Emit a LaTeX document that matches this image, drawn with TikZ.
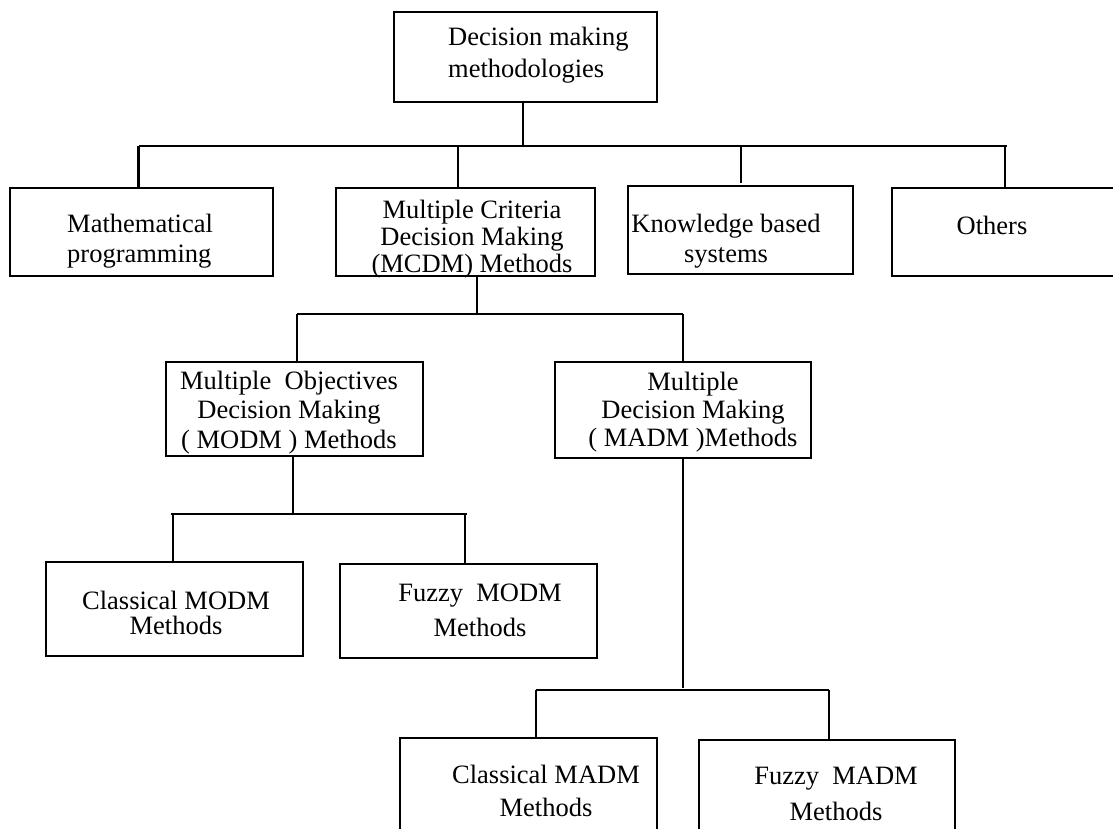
\documentclass[tikz,border=0pt]{standalone}
\usepackage{fontspec}
\setmainfont{Liberation Serif}
\begin{document}
\begin{tikzpicture}[x=1pt,y=-1pt,
  box/.style={draw,line width=2.1pt,rectangle,inner sep=0pt},
  conn/.style={line width=2.1pt},
  lbl/.style={inner sep=0pt,anchor=base,align=center,font=\fontsize{26.5}{#1}\selectfont},
  lbl/.default=30]
\useasboundingbox (0,0) rectangle (1113,828);
\begin{scope}
\clip (0,0) rectangle (1113,828);
% boxes
\node[box,minimum width=263pt,minimum height=90pt] (top) at (525.5,57) {};
\node[box,minimum width=263pt,minimum height=88pt] (math) at (141.5,232) {};
\node[box,minimum width=259pt,minimum height=88pt] (mcdm) at (465.5,232) {};
\node[box,minimum width=225pt,minimum height=88pt] (know) at (740.5,230) {};
\node[box,minimum width=233pt,minimum height=88pt] (oth) at (1008.5,232) {};
\node[box,minimum width=257pt,minimum height=94pt] (modm) at (294.5,409) {};
\node[box,minimum width=256pt,minimum height=96pt] (madm) at (683,410) {};
\node[box,minimum width=257pt,minimum height=94pt] (cmodm) at (174.5,609) {};
\node[box,minimum width=257pt,minimum height=94pt] (fmodm) at (468.5,611) {};
\node[box,minimum width=257pt,minimum height=102pt] (cmadm) at (528.5,789) {};
\node[box,minimum width=256pt,minimum height=102pt] (fmadm) at (827,791) {};
% texts (anchor base = baseline of the last line)
\node[lbl=32,anchor=base west,align=left] (ttop) at (448,77) {Decision making\\methodologies};
\node[lbl=30,anchor=base west,align=left] (tmath) at (67,262) {Mathematical\\programming};
\node[lbl=27] (tmcdm) at (472,272) {Multiple Criteria\\Decision Making\\(MCDM) Methods};
\node[lbl=30] (tknow) at (726,262) {Knowledge based\\systems};
\node[lbl] (toth) at (992,234) {Others};
\node[lbl=29.5] (tmodm) at (289,448) {Multiple\ \ Objectives\\Decision Making\\( MODM ) Methods};
\node[lbl=28] (tmadm) at (693,446) {Multiple\\Decision Making\\( MADM )Methods};
\node[lbl=25] (tcmodm) at (176,634) {Classical MODM\\Methods};
\node[lbl=35] (tfmodm) at (480,636) {Fuzzy\ \ MODM\\Methods};
\node[lbl=33] (tcmadm) at (546,816) {Classical MADM\\Methods};
\node[lbl=36] (tfmadm) at (836,820) {Fuzzy\ \ MADM\\Methods};
% bus coordinates
\coordinate (b1l) at (138.5,146);
\coordinate (b1r) at (1007,146);
\coordinate (j2) at (458,146);
\coordinate (j3) at (741,146);
\coordinate (j4) at (1005,146);
\coordinate (b2l) at (296.6,314);
\coordinate (b2r) at (682.8,314);
\coordinate (b3l) at (172.6,514);
\coordinate (b3r) at (465,514);
\coordinate (b4l) at (536.4,690);
\coordinate (b4r) at (828.8,690);
% connectors
\draw[conn] ([xshift=-2.5pt]top.south) -- ([xshift=-2.5pt]top.south |- b1l);
\draw[conn] (b1l) -- (b1r);
\draw[conn] (b1l) -- (b1l |- math.north);
\draw[conn] (j2) -- (j2 |- mcdm.north);
\draw[conn,line width=1.6pt] (j3) -- ([yshift=2pt]j3 |- know.north);
\draw[conn] (j4) -- (j4 |- oth.north);
\draw[conn] ([xshift=11.2pt]mcdm.south) -- ([xshift=11.2pt]mcdm.south |- b2l);
\draw[conn] (b2l) -- (b2r);
\draw[conn] (b2l) -- (b2l |- modm.north);
\draw[conn] (b2r) -- (b2r |- madm.north);
\draw[conn] ([xshift=-1.5pt]modm.south) -- ([xshift=-1.5pt]modm.south |- b3l);
\draw[conn] ([xshift=-1.5pt]b3l) -- ([xshift=1.5pt]b3r);
\draw[conn] (b3l) -- (b3l |- cmodm.north);
\draw[conn] (b3r) -- (b3r |- fmodm.north);
\draw[conn] (madm.south) -- ([yshift=2pt]madm.south |- b4l);
\draw[conn] (b4l) -- (b4r);
\draw[conn] (b4l) -- (b4l |- cmadm.north);
\draw[conn] (b4r) -- (b4r |- fmadm.north);
\end{scope}
\end{tikzpicture}
\end{document}
